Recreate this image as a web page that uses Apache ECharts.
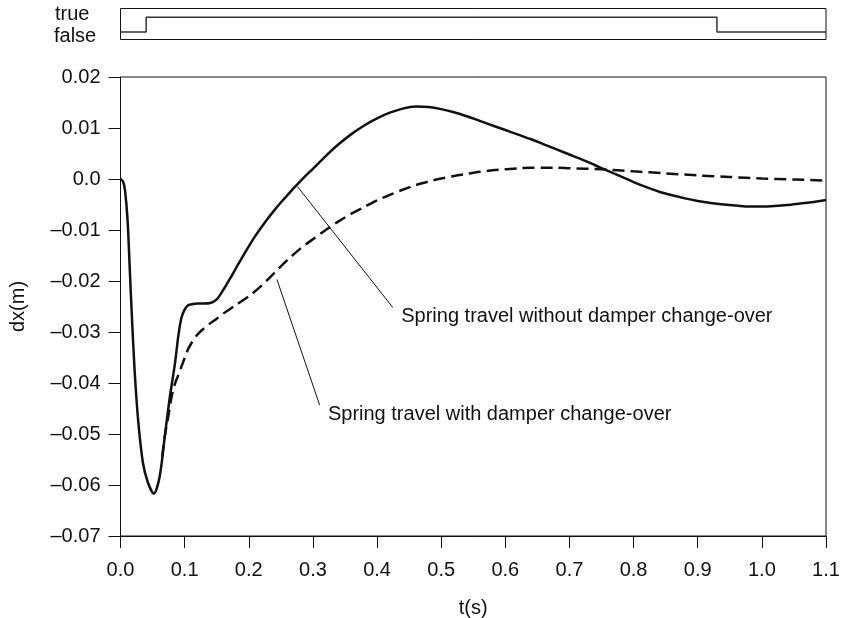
<!DOCTYPE html>
<html>
<head>
<meta charset="utf-8">
<script src="https://cdn.jsdelivr.net/npm/echarts@6/dist/echarts.min.js"></script>
<style>
  html, body { margin: 0; padding: 0; background: #fff; }
  #chart { width: 842px; height: 618px; }
</style>
</head>
<body>
<div id="chart"></div>
<script>
// damper switch signal (top strip)
const switchTimes = [0, 0.04, 0.93, 1.1];
const switchStates = [0, 1, 0, 0];

// spring travel without damper change-over (solid)
const tSolid = [0, 0.004, 0.007, 0.011, 0.0145, 0.018, 0.022, 0.0275, 0.035, 0.043, 0.052, 0.061, 0.069, 0.077, 0.085, 0.09, 0.095, 0.1, 0.105, 0.11, 0.12, 0.13, 0.14, 0.15, 0.16, 0.17, 0.18, 0.19, 0.2, 0.21, 0.22, 0.23, 0.24, 0.25, 0.26, 0.27, 0.28, 0.29, 0.3, 0.32, 0.34, 0.36, 0.38, 0.4, 0.42, 0.44, 0.46, 0.48, 0.5, 0.52, 0.54, 0.56, 0.58, 0.6, 0.62, 0.64, 0.66, 0.68, 0.7, 0.72, 0.74, 0.76, 0.78, 0.8, 0.82, 0.84, 0.86, 0.88, 0.9, 0.92, 0.94, 0.96, 0.98, 1.0, 1.02, 1.04, 1.06, 1.08, 1.1];
const dxSolid = [0, -0.0005, -0.0022, -0.0080, -0.0178, -0.0276, -0.0375, -0.0473, -0.0557, -0.0596, -0.0617, -0.0584, -0.0505, -0.0427, -0.0361, -0.0309, -0.0272, -0.0256, -0.0248, -0.0246, -0.0244, -0.0244, -0.0243, -0.0236, -0.0218, -0.0197, -0.0175, -0.0153, -0.0132, -0.0112, -0.0094, -0.0077, -0.0061, -0.0046, -0.0032, -0.0018, -0.0005, 0.0008, 0.0020, 0.0045, 0.0068, 0.0088, 0.0105, 0.0119, 0.0130, 0.0138, 0.0142, 0.0141, 0.0137, 0.0131, 0.0123, 0.0114, 0.0105, 0.0096, 0.0087, 0.0078, 0.0068, 0.0058, 0.0048, 0.0038, 0.0027, 0.0016, 0.0005, -0.0006, -0.0016, -0.0025, -0.0032, -0.0038, -0.0043, -0.0047, -0.0050, -0.0052, -0.0054, -0.0054, -0.0053, -0.0051, -0.0048, -0.0045, -0.0041];

// spring travel with damper change-over (dashed)
const tDashed = [0.065, 0.069, 0.075, 0.08, 0.085, 0.09, 0.095, 0.1, 0.105, 0.11, 0.12, 0.13, 0.14, 0.15, 0.16, 0.18, 0.2, 0.22, 0.24, 0.26, 0.28, 0.3, 0.32, 0.34, 0.36, 0.38, 0.4, 0.42, 0.44, 0.46, 0.48, 0.5, 0.52, 0.54, 0.56, 0.58, 0.6, 0.62, 0.64, 0.66, 0.68, 0.7, 0.75, 0.8, 0.85, 0.9, 0.95, 1.0, 1.05, 1.1];
const dxDashed = [-0.0545, -0.0505, -0.0462, -0.0425, -0.0401, -0.0385, -0.0368, -0.0351, -0.0335, -0.0323, -0.0305, -0.0293, -0.0283, -0.0274, -0.0264, -0.0247, -0.0230, -0.0209, -0.0184, -0.0159, -0.0137, -0.0118, -0.0100, -0.0083, -0.0068, -0.0055, -0.0042, -0.0031, -0.0021, -0.0012, -0.0005, 0.0001, 0.0006, 0.0010, 0.0014, 0.0017, 0.0019, 0.0021, 0.0022, 0.0022, 0.0022, 0.0021, 0.0019, 0.0015, 0.0011, 0.0007, 0.0004, 0.0001, -0.0001, -0.0003];

// annotation leader lines and texts (data coordinates)
const noteWithout = { text: 'Spring travel without damper change-over', from: [0.276, -0.0015], to: [0.4246, -0.0252], at: [0.4377, -0.0270] };
const noteWith = { text: 'Spring travel with damper change-over', from: [0.2439, -0.0197], to: [0.3104, -0.0443], at: [0.3234, -0.0461] };

const font = 'Liberation Sans, Arial, sans-serif';
const ink = '#111';

const fmtY = v => {
  const r = Math.round(v * 100) / 100;
  if (r === 0) return '0.0';
  return r.toFixed(2).replace('-', '\u2013');
};

const zip = (xs, ys) => xs.map((x, i) => [x, ys[i]]);

const note = (n) => ({
  markLine: {
    silent: true,
    animation: false,
    symbol: ['none', 'none'],
    lineStyle: { color: ink, width: 1, type: 'solid' },
    label: { show: false },
    data: [[{ coord: n.from }, { coord: n.to }]]
  },
  markPoint: {
    silent: true,
    animation: false,
    symbol: 'circle',
    symbolSize: 0,
    label: {
      show: true,
      position: 'right',
      distance: 0,
      formatter: n.text,
      color: ink,
      fontFamily: font,
      fontSize: 20
    },
    data: [{ coord: n.at }]
  }
});

const chart = echarts.init(document.getElementById('chart'));

chart.setOption({
  animation: false,
  backgroundColor: '#fff',
  grid: [
    { left: 120.5, right: 16, top: 77, bottom: 82, show: true, borderColor: ink, borderWidth: 1, outerBoundsMode: 'none' },
    { left: 120.5, right: 16, top: 8.5, height: 31, show: true, borderColor: ink, borderWidth: 1, outerBoundsMode: 'none' }
  ],
  xAxis: [
    {
      type: 'value', gridIndex: 0, min: 0, max: 1.1, interval: 0.1,
      name: 't(s)', nameLocation: 'middle', nameGap: 62,
      nameTextStyle: { color: ink, fontFamily: font, fontSize: 20 },
      axisLine: { onZero: false, lineStyle: { color: ink, width: 1 } },
      axisTick: { length: 12, lineStyle: { color: ink } },
      axisLabel: { color: ink, fontFamily: font, fontSize: 20, margin: 24, formatter: v => v.toFixed(1) },
      splitLine: { show: false }
    },
    { type: 'value', gridIndex: 1, min: 0, max: 1.1, show: false }
  ],
  yAxis: [
    {
      type: 'value', gridIndex: 0, min: -0.07, max: 0.02, interval: 0.01,
      name: 'dx(m)', nameLocation: 'middle', nameGap: 92,
      nameTextStyle: { color: ink, fontFamily: font, fontSize: 20 },
      axisLine: { show: true, onZero: false, lineStyle: { color: ink, width: 1 } },
      axisTick: { show: true, length: 12, lineStyle: { color: ink } },
      axisLabel: { color: ink, fontFamily: font, fontSize: 20, margin: 20, formatter: fmtY },
      splitLine: { show: false }
    },
    { type: 'value', gridIndex: 1, min: -0.5, max: 1.58, show: false }
  ],
  graphic: [
    { type: 'text', left: 55, top: 4, style: { text: 'true', fill: ink, font: '20px ' + font } },
    { type: 'text', left: 54, top: 26, style: { text: 'false', fill: ink, font: '20px ' + font } }
  ],
  series: [
    {
      type: 'line', xAxisIndex: 1, yAxisIndex: 1,
      data: zip(switchTimes, switchStates),
      step: 'end', symbol: 'none', silent: true,
      lineStyle: { color: '#333', width: 1.5 }
    },
    Object.assign({
      type: 'line', xAxisIndex: 0, yAxisIndex: 0,
      data: zip(tDashed, dxDashed),
      smooth: 0.3, symbol: 'none', silent: true,
      lineStyle: { color: ink, width: 2.5, type: [12, 6] }
    }, note(noteWith)),
    Object.assign({
      type: 'line', xAxisIndex: 0, yAxisIndex: 0,
      data: zip(tSolid, dxSolid),
      smooth: 0.3, symbol: 'none', silent: true,
      lineStyle: { color: ink, width: 2.5 }
    }, note(noteWithout))
  ]
});
</script>
</body>
</html>
